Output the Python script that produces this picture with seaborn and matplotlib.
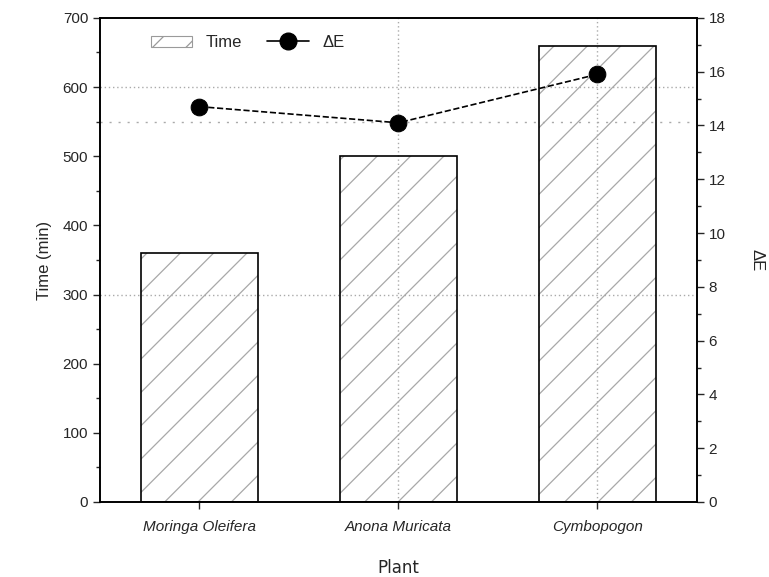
import matplotlib
matplotlib.use("Agg")
import matplotlib.pyplot as plt
import seaborn as sns
import pandas as pd
from matplotlib.lines import Line2D
from matplotlib.patches import Patch

plants = ["Moringa Oleifera", "Anona Muricata", "Cymbopogon"]
time_min = [360, 500, 660]
delta_e = [14.7, 14.1, 15.9]
left_ticks = [0, 100, 200, 300, 400, 500, 600, 700]
right_ticks = [0, 2, 4, 6, 8, 10, 12, 14, 16, 18]

sns.set_theme(style="white")
plt.rcParams["font.family"] = ["Liberation Sans", "DejaVu Sans"]
plt.rcParams["hatch.linewidth"] = 0.9

df = pd.DataFrame({"Plant": plants, "Time": time_min, "dE": delta_e})

fig = plt.figure(figsize=(7.69, 5.77), dpi=100)
ax = fig.add_axes([0.130, 0.130, 0.776, 0.839])

# hatched fill, then a crisp black outline on top
sns.barplot(data=df, x="Plant", y="Time", ax=ax, color="white", edgecolor="#a8a8a8",
            linewidth=0, hatch="/", width=0.59, zorder=2)
sns.barplot(data=df, x="Plant", y="Time", ax=ax, fill=False, edgecolor="black",
            linewidth=1.2, width=0.59, zorder=3)

ax.set_xlim(-0.5, 2.5)
ax.set_ylim(0, 700)
ax.set_yticks(left_ticks)
ax.set_yticks(range(50, 700, 100), minor=True)
ax.set_xlabel("Plant", fontsize=12, family="DejaVu Sans", labelpad=18)
ax.set_ylabel("Time (min)", fontsize=12, labelpad=8)
ax.tick_params(axis="x", labelsize=11, length=5, width=1, direction="out", bottom=True, pad=8)
ax.tick_params(axis="y", which="major", labelsize=11, length=5, width=1, direction="out", left=True)
ax.tick_params(axis="y", which="minor", length=3, width=1, direction="out", left=True)
for lbl in ax.get_xticklabels():
    lbl.set_fontstyle("italic")

# grid guides, drawn over the hatched fill
for xc in (1, 2):
    ax.axvline(xc, color="#aaaaaa", linestyle=(0, (1, 2)), linewidth=1, zorder=2.5)
for yv in (300, 600):
    ax.axhline(yv, color="#aaaaaa", linestyle=(0, (1, 2)), linewidth=1, zorder=2.5)
ax.axhline(550, color="#aaaaaa", linestyle=(0, (1.5, 5)), linewidth=1, zorder=2.5)

for s in ax.spines.values():
    s.set_color("black")
    s.set_linewidth(1.2)

ax2 = ax.twinx()
sns.lineplot(x=list(range(len(plants))), y=delta_e, ax=ax2, color="black",
             linestyle="--", linewidth=1.2, marker="o", markersize=12,
             markeredgecolor="black", zorder=5)
ax2.set_ylim(0, 18)
ax2.set_yticks(right_ticks)
ax2.set_yticks(range(1, 18, 2), minor=True)
ax2.set_ylabel("ΔE", fontsize=12, rotation=270, labelpad=28)
ax2.tick_params(axis="y", which="major", labelsize=11, length=5, width=1, direction="out", right=True)
ax2.tick_params(axis="y", which="minor", length=3, width=1, direction="out", right=True)
for s in ax2.spines.values():
    s.set_color("black")
    s.set_linewidth(1.2)

handles = [
    Patch(facecolor="white", edgecolor="#9a9a9a", hatch="/", linewidth=0.8, label="Time"),
    Line2D([0], [0], color="black", linewidth=1.2, marker="o", markersize=12, label="ΔE"),
]
ax2.legend(handles=handles, loc="upper left", bbox_to_anchor=(0.06, 0.995), ncol=2,
           frameon=False, fontsize=12, handlelength=2.5, columnspacing=1.5)

fig.savefig("out.png", dpi=100)
